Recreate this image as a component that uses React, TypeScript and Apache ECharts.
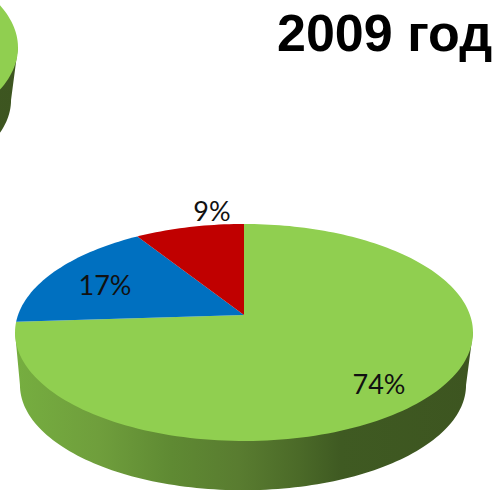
import React, { useEffect, useRef } from "react";
import * as echarts from "echarts";

const titleText = "2009 год";
const categories = ["A", "B", "C"];
const values = [74, 17, 9];
const colors = ["#90cf50", "#0070c0", "#c00000"];
const labels = ["74%", "17%", "9%"];
const previousValues = [100];
const previousColors = ["#90cf50"];

const labelSpots = [
  [379, 383],
  [105, 284],
  [212, 210],
];
const mainPie = { ax: 244, ay: 315 };
const previousPie = { ax: -211, ay: 30 };
const R = 226, A = 105.7, K = 0.161;
const wallShift = { dx: -1, dy: 53, scale: 0.974 };

const wallStops = [
  [0, "#76ae40"],
  [0.185, "#6f9e3c"],
  [0.34, "#5f8a33"],
  [0.49, "#597c30"],
  [0.62, "#4b6a28"],
  [0.71, "#3f5a22"],
  [1, "#3d5520"],
].map(([offset, color]) => ({ offset, color }));

function project(pie: { ax: number; ay: number }, frac: number): number[] {
  const t = frac * 2 * Math.PI;
  const u = Math.sin(t), v = -Math.cos(t);
  const w = 1 - K * v;
  return [pie.ax + (R * u) / w, pie.ay + (A * v) / w];
}

function slicePoints(pie: { ax: number; ay: number }, start: number, share: number): number[][] {
  const pts: number[][] = [[pie.ax, pie.ay]];
  const n = Math.max(8, Math.ceil(share * 240));
  for (let i = 0; i <= n; i++) pts.push(project(pie, start + (share * i) / n));
  return pts;
}

function wallPoints(pie: { ax: number; ay: number }): number[][] {
  const cx = pie.ax, cy = pie.ay + 17;
  const rx = 229, ry = 108.5;
  const pts: number[][] = [[cx - rx, cy]];
  for (let i = 0; i <= 120; i++) {
    const a = Math.PI - (Math.PI * i) / 120;
    pts.push([
      cx + wallShift.dx + rx * wallShift.scale * Math.cos(a),
      cy + wallShift.dy + ry * 0.97 * Math.sin(a),
    ]);
  }
  pts.push([cx + rx, cy]);
  return pts;
}

function pieSeries(pie: { ax: number; ay: number }, vals: number[], cols: string[], texts: string[]) {
  const total = vals.reduce((s, v) => s + v, 0);
  let run = 0;
  const data = vals.map((v) => {
    const row = [v, run / total];
    run += v;
    return row;
  });
  return [
    {
      type: "custom",
      coordinateSystem: "none",
      silent: true,
      z: 1,
      data: [[0]],
      renderItem: () => ({
        type: "polygon",
        shape: { points: wallPoints(pie) },
        style: { fill: { type: "linear", x: 0, y: 0, x2: 1, y2: 0, colorStops: wallStops } },
      }),
    },
    {
      type: "custom",
      coordinateSystem: "none",
      silent: true,
      z: 2,
      data,
      renderItem: (params: any, api: any) => ({
        type: "polygon",
        shape: { points: slicePoints(pie, api.value(1), api.value(0) / total) },
        style: { fill: cols[params.dataIndex] },
      }),
    },
    ...(texts.length
      ? [
          {
            type: "custom",
            coordinateSystem: "none",
            silent: true,
            z: 3,
            data,
            renderItem: (params: any) => ({
              type: "text",
              x: labelSpots[params.dataIndex][0],
              y: labelSpots[params.dataIndex][1],
              style: {
                text: texts[params.dataIndex],
                font: "27px Lato",
                fill: "#111111",
                align: "center",
                verticalAlign: "middle",
              },
            }),
          },
        ]
      : []),
  ];
}

export default function App() {
  const ref = useRef<HTMLDivElement>(null);
  useEffect(() => {
    const chart = echarts.init(ref.current!, null, { renderer: "svg" });
    chart.setOption({
      animation: false,
      backgroundColor: "#ffffff",
      title: {
        text: titleText,
        left: 272,
        top: 2,
        textStyle: {
          fontFamily: "Liberation Sans",
          fontWeight: "bold",
          fontSize: 52,
          color: "#000000",
        },
      },
      series: [
        ...pieSeries(previousPie, previousValues, previousColors, []),
        ...pieSeries(mainPie, values, colors, labels),
      ],
    });
    return () => chart.dispose();
  }, []);
  return (
    <div
      ref={ref}
      data-categories={categories.join(",")}
      style={{ position: "absolute", left: 0, top: 0, width: 498, height: 490 }}
    />
  );
}
